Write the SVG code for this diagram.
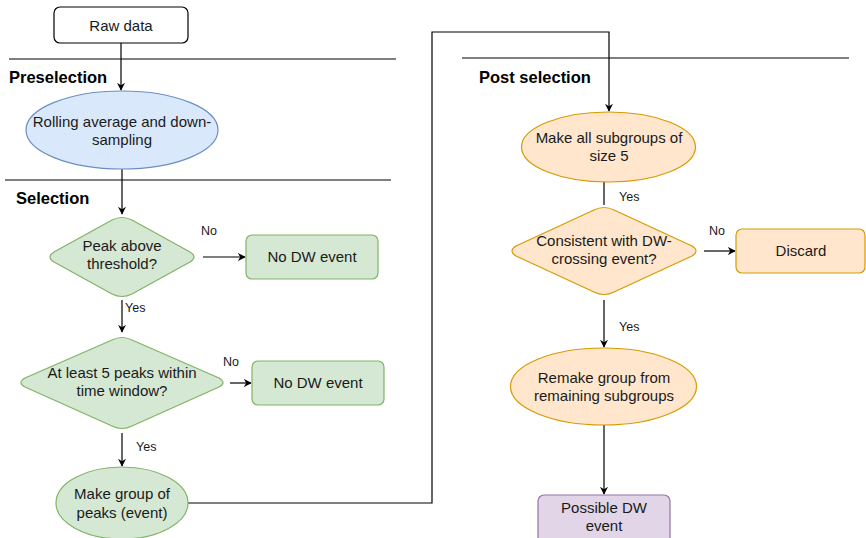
<svg xmlns="http://www.w3.org/2000/svg" width="866" height="538" viewBox="0 0 866 538">
<style>
text{font-family:"Liberation Sans",Arial,sans-serif;fill:#1a1a1a}
.n{font-size:15px;text-anchor:middle}
.e{font-size:12.5px}
.h{font-size:16.5px;font-weight:bold;fill:#000}
.c{fill:none;stroke:#000;stroke-width:1.2}
.sep{stroke:#555;stroke-width:1.3}
.g{fill:#d5e8d4;stroke:#82b366;stroke-width:1.2}
.o{fill:#ffe6cc;stroke:#d79b00;stroke-width:1.2}
</style>
<defs>
<marker id="a" viewBox="0 0 10 10" refX="9" refY="5" markerWidth="8" markerHeight="8" orient="auto" markerUnits="userSpaceOnUse">
<path d="M0,0 L10,5 L0,10 L3,5 Z" fill="#000"/>
</marker>
</defs>
<rect width="866" height="538" fill="#fff"/>
<g id="separators">
<line class="sep" x1="9" y1="59" x2="396" y2="59"/>
<line class="sep" x1="5" y1="180" x2="391" y2="180"/>
<line class="sep" x1="462" y1="58" x2="849" y2="58"/>
<text class="h" x="9" y="83">Preselection</text>
<text class="h" x="16" y="204">Selection</text>
<text class="h" x="479" y="83">Post selection</text>
</g>
<g id="connectors">
<line class="c" x1="121" y1="43" x2="121" y2="90" marker-end="url(#a)"/>
<line class="c" x1="122" y1="168" x2="122" y2="214" marker-end="url(#a)"/>
<line class="c" x1="203" y1="257" x2="245" y2="257" marker-end="url(#a)"/>
<line class="c" x1="122" y1="300" x2="122" y2="332" marker-end="url(#a)"/>
<line class="c" x1="230" y1="383" x2="251" y2="383" marker-end="url(#a)"/>
<line class="c" x1="122" y1="433" x2="122" y2="466" marker-end="url(#a)"/>
<polyline class="c" points="188,503 432,503 432,32 609,32 609,111" marker-end="url(#a)"/>
<line class="c" x1="604" y1="182" x2="604" y2="205"/>
<line class="c" x1="704" y1="251" x2="735" y2="251" marker-end="url(#a)"/>
<line class="c" x1="604" y1="300" x2="604" y2="347" marker-end="url(#a)"/>
<line class="c" x1="604" y1="425" x2="604" y2="494" marker-end="url(#a)"/>
<text class="e" x="201" y="235">No</text>
<text class="e" x="125" y="312">Yes</text>
<text class="e" x="223" y="366">No</text>
<text class="e" x="136" y="451">Yes</text>
<text class="e" x="619" y="201">Yes</text>
<text class="e" x="709" y="235">No</text>
<text class="e" x="619" y="331">Yes</text>
</g>
<g id="raw-data">
<rect x="54" y="7" width="134" height="36" rx="6" fill="#fff" stroke="#000" stroke-width="1.2"/>
<text class="n" x="121" y="31">Raw data</text>
</g>
<g id="rolling">
<ellipse cx="122" cy="130" rx="96" ry="39" fill="#dae8fc" stroke="#6c8ebf" stroke-width="1.2"/>
<text class="n" x="122" y="127">Rolling average and down-</text>
<text class="n" x="122" y="145">sampling</text>
</g>
<g id="peak-threshold">
<path class="g" d="M112,220 Q122,215 132,220 L190,252 Q198,257 190,262 L132,294 Q122,299 112,294 L54,262 Q46,257 54,252 Z"/>
<text class="n" x="122" y="251">Peak above</text>
<text class="n" x="122" y="269">threshold?</text>
</g>
<g id="no-dw-1">
<rect class="g" x="246" y="235" width="132" height="44" rx="6"/>
<text class="n" x="312" y="262">No DW event</text>
</g>
<g id="five-peaks">
<path class="g" d="M112,340 Q122,335 132,340 L219,378 Q227,383 219,387 L132,426 Q122,431 112,426 L25,387 Q17,383 25,378 Z"/>
<text class="n" x="122" y="378">At least 5 peaks within</text>
<text class="n" x="122" y="396">time window?</text>
</g>
<g id="no-dw-2">
<rect class="g" x="252" y="361" width="132" height="44" rx="6"/>
<text class="n" x="318" y="388">No DW event</text>
</g>
<g id="make-group">
<ellipse class="g" cx="122" cy="503" rx="66" ry="36"/>
<text class="n" x="122" y="499">Make group of</text>
<text class="n" x="122" y="518">peaks (event)</text>
</g>
<g id="subgroups">
<ellipse class="o" cx="608.5" cy="147" rx="87" ry="35"/>
<text class="n" x="609" y="143">Make all subgroups of</text>
<text class="n" x="609" y="161">size 5</text>
</g>
<g id="consistent">
<path class="o" d="M594,210 Q604,205 614,210 L692,246 Q700,251 692,256 L614,292 Q604,297 594,292 L516,256 Q508,251 516,246 Z"/>
<text class="n" x="604" y="246">Consistent with DW-</text>
<text class="n" x="604" y="264">crossing event?</text>
</g>
<g id="discard">
<rect class="o" x="736" y="229" width="129" height="44" rx="6"/>
<text class="n" x="801" y="256">Discard</text>
</g>
<g id="remake">
<ellipse class="o" cx="603.5" cy="386.5" rx="93" ry="38.5"/>
<text class="n" x="604" y="383">Remake group from</text>
<text class="n" x="604" y="401">remaining subgroups</text>
</g>
<g id="possible">
<rect x="538" y="495" width="132" height="50" rx="6" fill="#e1d5e7" stroke="#9673a6" stroke-width="1.2"/>
<text class="n" x="604" y="513">Possible DW</text>
<text class="n" x="604" y="531">event</text>
</g>
</svg>
